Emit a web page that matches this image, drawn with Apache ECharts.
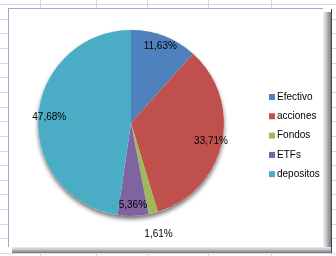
<!DOCTYPE html>
<html>
<head>
<meta charset="utf-8">
<script src="https://cdn.jsdelivr.net/npm/echarts@6/dist/echarts.min.js"></script>
<style>
  html, body { margin: 0; padding: 0; width: 336px; height: 256px; overflow: hidden; background: #fff; }
  .gl { position: absolute; background: #d3dae6; }
  #frame { position: absolute; left: 8px; top: 8px; width: 315px; height: 239px; background: #fff;
           border-left: 1px solid #9aaccb; border-top: 1px solid #9aaccb; box-sizing: border-box; }
  #bevR { position: absolute; left: 323px; top: 12px; width: 8px; height: 241px;
          background: linear-gradient(to right, #f2f2f2, #c8c8c8 40%, #7a7a7a); }
  #bevB { position: absolute; left: 12px; top: 247px; width: 319px; height: 6px;
          background: linear-gradient(to bottom, #f0f0f0, #bcbcbc 50%, #707070); }
  #darkR { position: absolute; left: 331px; top: 9px; width: 1px; height: 244px; background: #3b4763; }
  #chart { position: absolute; left: 0; top: 0; width: 336px; height: 256px; }
</style>
</head>
<body>
<div id="grid"></div>
<div id="frame"></div>
<div id="bevR"></div>
<div id="bevB"></div>
<div id="darkR"></div>
<div id="chart"></div>
<script>
// ---- data ----
const categories = ['Efectivo', 'acciones', 'Fondos', 'ETFs', 'depositos'];
const values = [11.63, 33.71, 1.61, 5.36, 47.68];
const colors = ['#4f81bd', '#c0504d', '#9bbb59', '#8064a2', '#4bacc6'];
const outsideLabel = ['Fondos'];

// ---- spreadsheet gridlines (background decoration) ----
const grid = document.getElementById('grid');
for (let i = 0; i < 18; i++) {
  const d = document.createElement('div');
  d.className = 'gl';
  d.style.left = '0px'; d.style.width = '336px'; d.style.height = '1px';
  d.style.top = Math.round(4 + i * 14.65) + 'px';
  grid.appendChild(d);
}
[40, 96, 147, 208, 271].forEach(x => {
  const d = document.createElement('div');
  d.className = 'gl';
  d.style.left = x + 'px'; d.style.top = '0px'; d.style.width = '1px'; d.style.height = '256px';
  grid.appendChild(d);
});

const fmt = v => v.toFixed(2).replace('.', ',') + '%';
const items = categories.map((c, i) => ({ name: c, value: values[i], itemStyle: { color: colors[i] } }));

const center = [131, 123];
const R = 93;
const font = 'Liberation Sans, Arial, sans-serif';

const chart = echarts.init(document.getElementById('chart'), null, { renderer: 'canvas' });
chart.setOption({
  animation: false,
  legend: {
    orient: 'vertical',
    left: 264, top: 86,
    data: categories,
    icon: 'rect',
    itemWidth: 6, itemHeight: 6,
    itemGap: 7.3,
    selectedMode: false,
    textStyle: { fontFamily: font, fontSize: 10, color: '#000', lineHeight: 12, padding: [0, 0, 0, -3] }
  },
  series: [
    { // shadow under the pie
      type: 'pie', silent: true, center: center, radius: [0, R],
      label: { show: false }, labelLine: { show: false },
      data: [{ value: 1, name: '_shadow', itemStyle: { color: '#fff', shadowBlur: 4, shadowOffsetY: 3, shadowColor: 'rgba(0,0,0,0.55)' } }],
      emphasis: { disabled: true }
    },
    { // main pie
      type: 'pie', silent: true, center: center, radius: [0, R], startAngle: 90, clockwise: true,
      label: { show: false }, labelLine: { show: false },
      itemStyle: { borderWidth: 0 },
      data: items,
      emphasis: { disabled: true }
    },
    { // label ring for inside labels
      type: 'pie', silent: true, center: center, radius: [0, 158], startAngle: 90, clockwise: true,
      itemStyle: { color: 'rgba(0,0,0,0)', borderWidth: 0 },
      labelLine: { show: false },
      label: {
        show: true, position: 'inside', fontFamily: font, fontSize: 10, color: '#000',
        formatter: p => outsideLabel.includes(p.name) ? '' : fmt(p.value)
      },
      data: categories.map((c, i) => ({ name: c, value: values[i] })),
      emphasis: { disabled: true }
    },
    { // label ring for outside labels
      type: 'pie', silent: true, center: center, radius: [0, 224], startAngle: 90, clockwise: true,
      itemStyle: { color: 'rgba(0,0,0,0)', borderWidth: 0 },
      labelLine: { show: false },
      label: {
        show: true, position: 'inside', fontFamily: font, fontSize: 10, color: '#000',
        formatter: p => outsideLabel.includes(p.name) ? fmt(p.value) : ''
      },
      data: categories.map((c, i) => ({ name: c, value: values[i] })),
      emphasis: { disabled: true }
    }
  ]
});
</script>
</body>
</html>
